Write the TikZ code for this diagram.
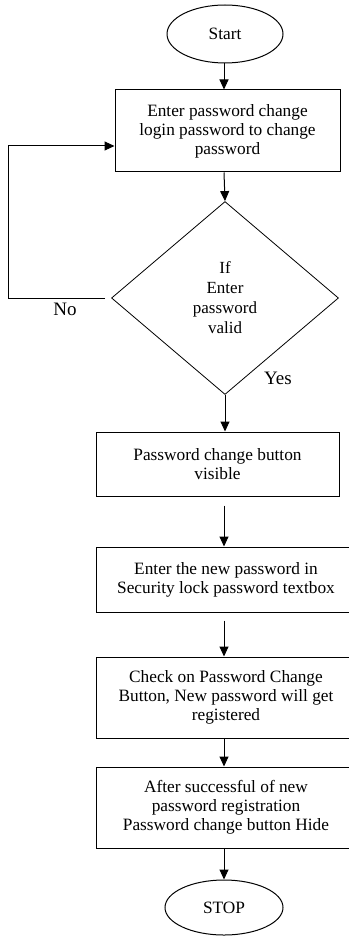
\documentclass[tikz,border=0pt]{standalone}
\usepackage{fontspec}
\setmainfont{Liberation Serif}
\usetikzlibrary{shapes.geometric}
\usetikzlibrary{arrows.meta}
\tikzset{
    terminal/.style={draw,ellipse,inner sep=0pt},
    process/.style={draw,rectangle,align=center,inner sep=0pt},
    decision/.style={draw,diamond,align=center,inner sep=0pt,line width=0.8pt},
    flow/.style={-{Triangle[length=10pt,width=9pt]}}
}

\begin{document}
\begin{tikzpicture}[x=1pt,y=-1pt,line width=1pt,font=\fontsize{17.3}{19}\selectfont]
        \useasboundingbox (0,0) rectangle (348,936);
        \coordinate (spine) at (224,0);

        \node[terminal,minimum width=116pt,minimum height=58pt] (start) at (225,  34) {Start};
        \node[process, minimum width=225pt,minimum height=82pt] (box1)  at (227.5,131) {Enter password change\\login password to change\\password};
        \node[decision,minimum width=227pt,minimum height=193pt,font=\fontsize{17}{20}\selectfont] (dec) at (225,298) {If\\Enter\\password\\valid};
        \node[process, minimum width=243pt,minimum height=64pt] (box2)  at (217.5,464) {Password change button\\visible};
        \node[process, minimum width=260pt,minimum height=65pt] (box3)  at (226,579.5) {Enter the new password in\\Security lock password textbox};
        \node[process, minimum width=260pt,minimum height=81pt] (box4)  at (226,697.5) {Check on Password Change\\Button, New password will get\\registered};
        \node[process, minimum width=260pt,minimum height=81pt] (box5)  at (226,807.5) {After successful of new\\password registration\\Password change button Hide};
        \node[terminal,minimum width=118pt,minimum height=55pt] (stop)  at (224,907.5) {STOP};

        \draw[flow] (start.south -| spine) -- (box1.north -| spine);
        \draw[flow] (box1.south -| spine) -- (dec.north);
        \draw[flow] (dec.south) -- (box2.north -| dec.south);
        \draw[flow,shorten <=9pt] (box2.south -| spine) -- (box3.north -| spine);
        \draw[flow,shorten <=8pt] (box3.south -| spine) -- (box4.north -| spine);
        \draw[flow] (box4.south -| spine) -- (box5.north -| spine);
        \draw[flow] (box5.south -| spine) -- (stop.north);

        \coordinate (noturn) at (8,298);
        \draw[flow] ([xshift=-6pt]dec.west) -- (noturn) |- ([yshift=-15pt]box1.west);

        \node[font=\fontsize{19}{19}\selectfont] (nolabel)  at (65,309)  {No};
        \node[font=\fontsize{19}{19}\selectfont] (yeslabel) at (278,378) {Yes};
    \end{tikzpicture}
\end{document}
